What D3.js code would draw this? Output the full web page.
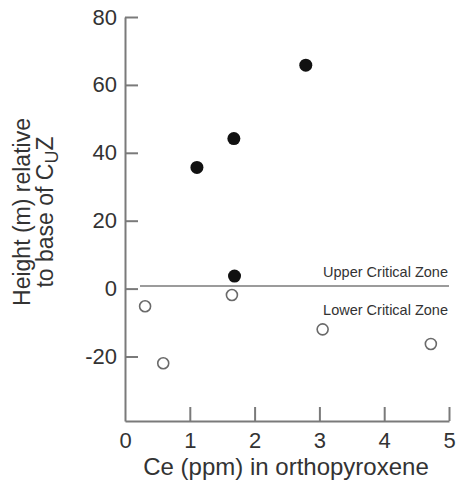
<!DOCTYPE html>
<html>
<head>
<meta charset="utf-8">
<script src="https://cdn.jsdelivr.net/npm/d3@7"></script>
<style>
  body { margin: 0; background: #fff; }
  text { font-family: 'Liberation Sans', Arial, sans-serif; fill: #333; }
</style>
</head>
<body>
<div id="chart"></div>
<script>
// Upper Critical Zone samples (filled)
const upperCe = [1.11, 1.68, 2.79, 1.69]
const upperHeight = [35.7, 44.2, 65.8, 3.7]
// Lower Critical Zone samples (open)
const lowerCe = [0.31, 0.59, 1.65, 3.05, 4.72]
const lowerHeight = [-5.2, -22, -1.9, -12, -16.3]

const xTicks = [0, 1, 2, 3, 4, 5]
const yTicks = [-20, 0, 20, 40, 60, 80]
const boundary = 0.8

const W = 456, H = 480
const svg = d3.select('#chart').append('svg').attr('width', W).attr('height', H)

const x = d3.scaleLinear().domain([0, 5]).range([125, 449])
const y = d3.scaleLinear().domain([-39, 80]).range([421, 17])

const axisColor = '#7a7a7a'
const tickFmt = (d) => String(d)

// y axis
svg.append('g')
  .attr('transform', `translate(${x(0)},0)`)
  .call(d3.axisLeft(y).tickValues(yTicks).tickFormat(tickFmt).tickSizeInner(-13).tickSizeOuter(0).tickPadding(8))
  .call((g) => {
    g.select('.domain').attr('stroke', axisColor).attr('stroke-width', 2)
    g.selectAll('.tick line').attr('stroke', axisColor).attr('stroke-width', 2)
    g.selectAll('.tick text').style('font-size', '22px').style('fill', '#333')
  })

// x axis
svg.append('g')
  .attr('transform', `translate(0,${y(-39)})`)
  .call(d3.axisBottom(x).tickValues(xTicks).tickFormat(tickFmt).tickSizeInner(-14).tickSizeOuter(0).tickPadding(11))
  .call((g) => {
    g.select('.domain').attr('stroke', axisColor).attr('stroke-width', 2)
    g.selectAll('.tick line').attr('stroke', axisColor).attr('stroke-width', 2)
      .filter((d) => d === 0).remove()
    g.selectAll('.tick text').style('font-size', '22px').style('fill', '#333')
  })

// zone boundary
svg.append('line')
  .attr('x1', 140).attr('x2', x(5))
  .attr('y1', y(boundary)).attr('y2', y(boundary))
  .attr('stroke', axisColor).attr('stroke-width', 1.5)

svg.append('text')
  .attr('x', x(5) - 1).attr('y', y(boundary) - 9)
  .attr('text-anchor', 'end')
  .style('font-size', '14.5px')
  .text('Upper Critical Zone')

svg.append('text')
  .attr('x', x(5) - 1).attr('y', y(boundary) + 29)
  .attr('text-anchor', 'end')
  .style('font-size', '14.5px')
  .text('Lower Critical Zone')

// points
svg.append('g').selectAll('circle')
  .data(lowerCe.map((c, i) => ({ c, h: lowerHeight[i] })))
  .enter().append('circle')
  .attr('cx', (d) => x(d.c)).attr('cy', (d) => y(d.h))
  .attr('r', 5.5)
  .attr('fill', '#fff').attr('stroke', '#6a6a6a').attr('stroke-width', 1.6)

svg.append('g').selectAll('circle')
  .data(upperCe.map((c, i) => ({ c, h: upperHeight[i] })))
  .enter().append('circle')
  .attr('cx', (d) => x(d.c)).attr('cy', (d) => y(d.h))
  .attr('r', 6.5)
  .attr('fill', '#111')

// axis titles
svg.append('text')
  .attr('x', 286).attr('y', 475)
  .attr('text-anchor', 'middle')
  .style('font-size', '24px')
  .text('Ce (ppm) in orthopyroxene')

const yTitle = svg.append('text')
  .attr('transform', 'translate(0,212) rotate(-90)')
  .attr('text-anchor', 'middle')
  .style('font-size', '23px')
yTitle.append('tspan').attr('x', 0).attr('y', 30).text('Height (m) relative')
const line2 = yTitle.append('tspan').attr('x', 0).attr('y', 53)
line2.append('tspan').text('to base of C')
line2.append('tspan').attr('dy', 5).style('font-size', '18px').text('U')
line2.append('tspan').attr('dy', -5).text('Z')
</script>
</body>
</html>
